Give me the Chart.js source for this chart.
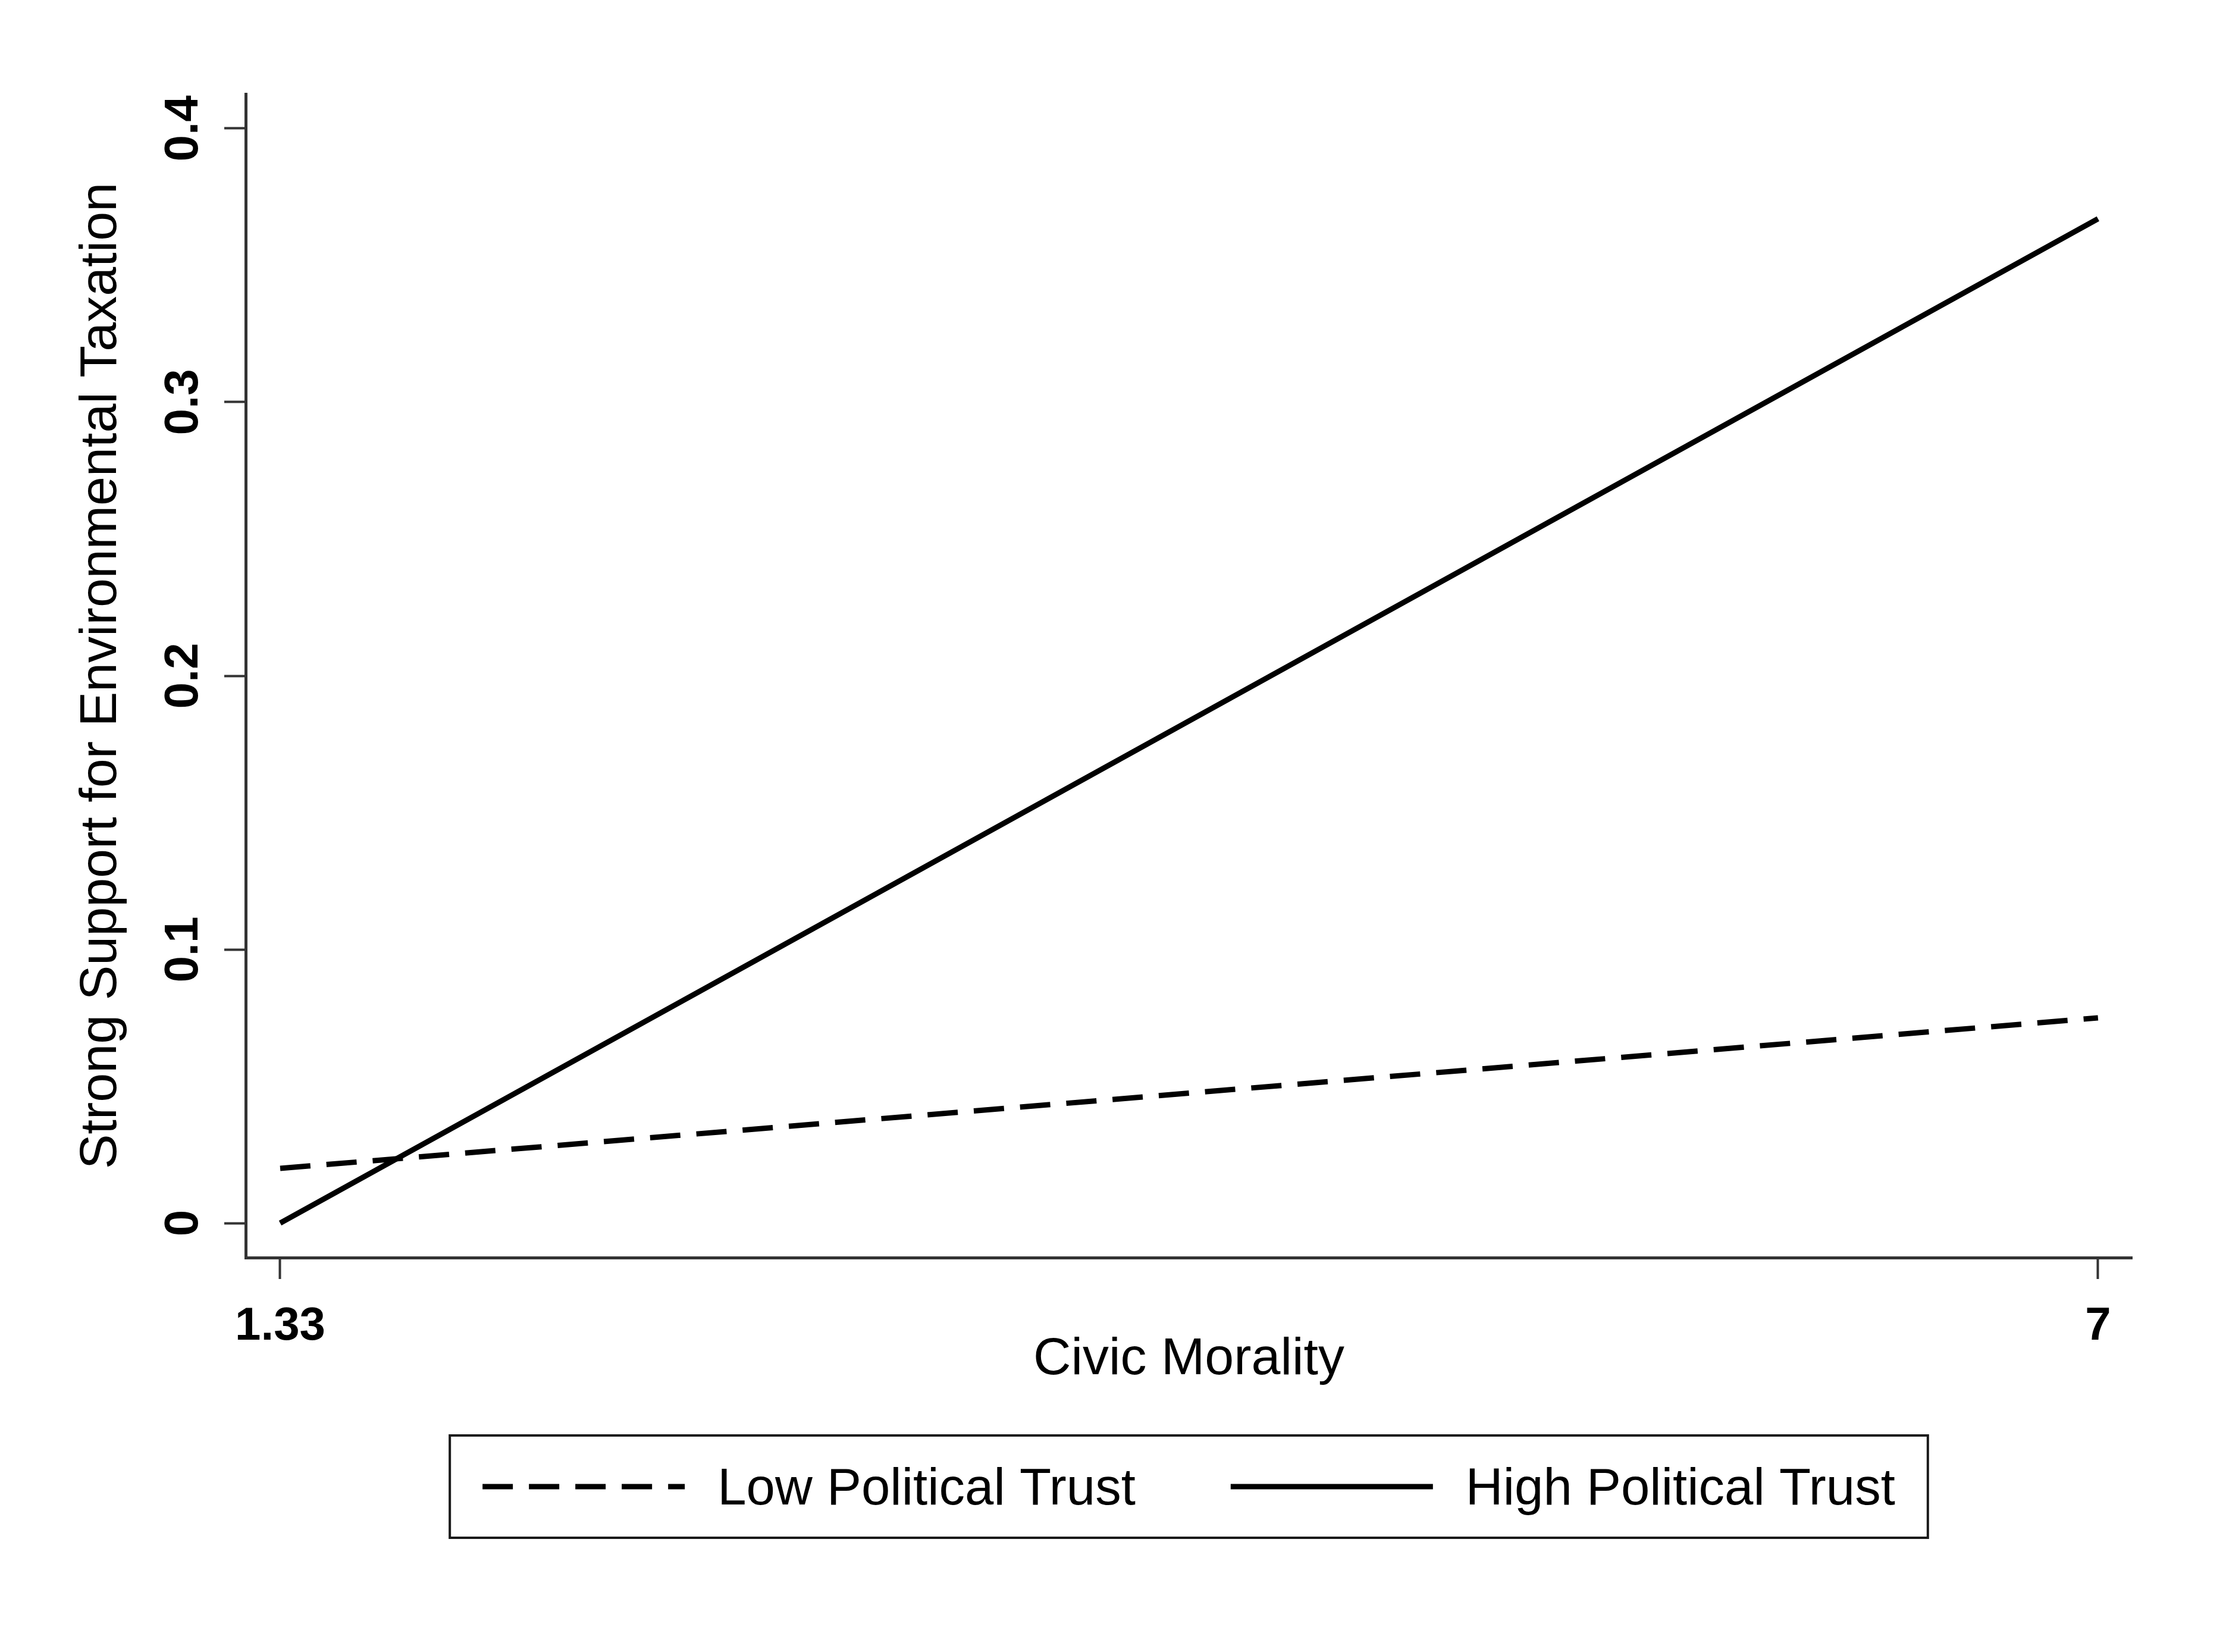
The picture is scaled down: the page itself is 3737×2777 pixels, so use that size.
<!DOCTYPE html>
<html>
<head>
<meta charset="utf-8">
<title>Civic Morality and Support for Environmental Taxation</title>
<script src="https://cdn.jsdelivr.net/npm/chart.js@4.4.1/dist/chart.umd.min.js"></script>
<style>
  html, body { margin: 0; padding: 0; background: #ffffff; }
  canvas { display: block; }
</style>
</head>
<body>
<canvas id="marginsChart" width="3737" height="2777"></canvas>
<script>
// values
const civicMorality = [1.33, 7];
const lowTrust = [0.020, 0.075];
const highTrust = [0.0, 0.367];
const seriesNames = ["Low Political Trust", "High Political Trust"];
const xTickValues = [1.33, 7];
const yTickValues = [0, 0.1, 0.2, 0.3, 0.4];

const FONT = "'Liberation Sans', Arial, sans-serif";
const AXIS_GREY = "#333333";

function toPoints(values) {
  return civicMorality.map((x, i) => ({ x: x, y: values[i] }));
}

// Stata style legend: framed box under the x axis title
const boxedLegend = {
  id: "boxedLegend",
  afterDraw(chart) {
    const ctx = chart.ctx;
    const area = chart.chartArea;
    const sampleW = 340;
    const gap = 55;
    const itemGap = 160;
    const padX = 55;
    const boxH = 172;
    const midY = 2499;

    ctx.save();
    ctx.font = "87px " + FONT;
    const items = chart.data.datasets.map(ds => ({
      text: ds.label,
      dash: ds.borderDash || [],
      width: ds.borderWidth,
      color: ds.borderColor,
      textW: ctx.measureText(ds.label).width
    }));
    let total = 0;
    items.forEach((it, i) => {
      total += sampleW + gap + it.textW + (i > 0 ? itemGap : 0);
    });
    const boxW = total + padX * 2;
    const boxLeft = (area.left + area.right) / 2 - boxW / 2;

    ctx.lineWidth = 4;
    ctx.strokeStyle = "#1a1a1a";
    ctx.strokeRect(boxLeft, midY - boxH / 2, boxW, boxH);

    let x = boxLeft + padX;
    items.forEach(it => {
      ctx.beginPath();
      ctx.setLineDash(it.dash);
      ctx.lineWidth = it.width;
      ctx.strokeStyle = it.color;
      ctx.moveTo(x, midY);
      ctx.lineTo(x + sampleW, midY);
      ctx.stroke();
      ctx.setLineDash([]);
      ctx.fillStyle = "#000000";
      ctx.textBaseline = "middle";
      ctx.textAlign = "left";
      ctx.fillText(it.text, x + sampleW + gap, midY + 6);
      x += sampleW + gap + it.textW + itemGap;
    });
    ctx.restore();
  }
};

const canvas = document.getElementById("marginsChart");
new Chart(canvas, {
  type: "line",
  data: {
    datasets: [
      {
        label: seriesNames[0],
        data: toPoints(lowTrust),
        borderColor: "#000000",
        borderWidth: 9,
        borderDash: [51, 27],
        pointRadius: 0,
        tension: 0,
        fill: false
      },
      {
        label: seriesNames[1],
        data: toPoints(highTrust),
        borderColor: "#000000",
        borderWidth: 9,
        pointRadius: 0,
        tension: 0,
        fill: false
      }
    ]
  },
  options: {
    responsive: false,
    animation: false,
    layout: {
      padding: { left: 0, top: 158, right: 153, bottom: 433 }
    },
    plugins: {
      legend: { display: false },
      tooltip: { enabled: false }
    },
    scales: {
      x: {
        type: "linear",
        min: 1.2224,
        max: 7.106,
        afterBuildTicks: scale => {
          scale.ticks = xTickValues.map(v => ({ value: v }));
        },
        afterFit: scale => {
          scale.height = 230;
        },
        border: { color: AXIS_GREY, width: 5 },
        grid: {
          drawOnChartArea: false,
          tickLength: 36,
          tickWidth: 4,
          tickColor: AXIS_GREY
        },
        ticks: {
          autoSkip: false,
          maxRotation: 0,
          padding: 34,
          color: "#000000",
          font: { family: FONT, size: 78, weight: "bold" },
          callback: value => String(value)
        },
        title: {
          display: true,
          text: "Civic Morality",
          color: "#000000",
          font: { family: FONT, size: 88 },
          padding: { top: 0, bottom: 5 }
        }
      },
      y: {
        type: "linear",
        min: -0.0126,
        max: 0.4126,
        afterBuildTicks: scale => {
          scale.ticks = yTickValues.map(v => ({ value: v }));
        },
        afterFit: scale => {
          scale.width = 413;
        },
        border: { color: AXIS_GREY, width: 5 },
        grid: {
          drawOnChartArea: false,
          tickLength: 36,
          tickWidth: 4,
          tickColor: AXIS_GREY
        },
        ticks: {
          minRotation: 90,
          maxRotation: 90,
          crossAlign: "center",
          padding: 11,
          color: "#000000",
          font: { family: FONT, size: 80, weight: "bold" },
          callback: value => String(value)
        },
        title: {
          display: true,
          text: "Strong Support for Environmental Taxation",
          color: "#000000",
          font: { family: FONT, size: 88 },
          padding: { top: 118, bottom: 0 }
        }
      }
    }
  },
  plugins: [boxedLegend]
});
</script>
</body>
</html>
